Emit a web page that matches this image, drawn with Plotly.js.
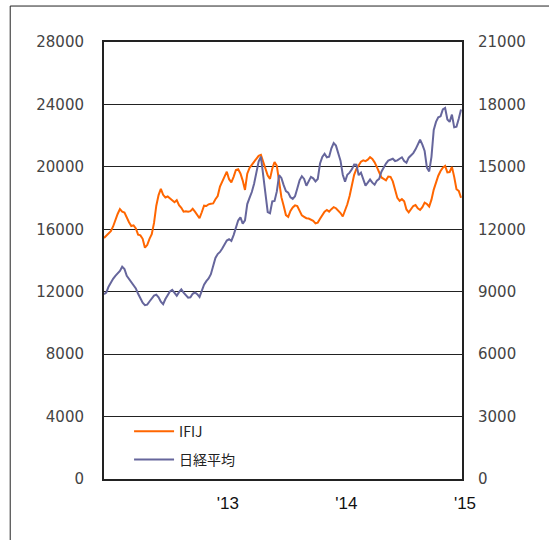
<!DOCTYPE html>
<html>
<head>
<meta charset="utf-8">
<script src="https://cdn.plot.ly/plotly-3.0.1.min.js"></script>
<style>
html,body{margin:0;padding:0;background:#fff;}
#chart{width:549px;height:540px;}
</style>
</head>
<body>
<div id="chart"></div>
<script>
// Weekly observations (Mondays)
const dates = [
"2011-12-26",
"2012-01-02","2012-01-09","2012-01-16","2012-01-23","2012-01-30",
"2012-02-06","2012-02-13","2012-02-20","2012-02-27",
"2012-03-05","2012-03-12","2012-03-19","2012-03-26",
"2012-04-02","2012-04-09","2012-04-16","2012-04-23","2012-04-30",
"2012-05-07","2012-05-14","2012-05-21","2012-05-28",
"2012-06-04","2012-06-11","2012-06-18","2012-06-25",
"2012-07-02","2012-07-09","2012-07-16","2012-07-23","2012-07-30",
"2012-08-06","2012-08-13","2012-08-20","2012-08-27",
"2012-09-03","2012-09-10","2012-09-17","2012-09-24",
"2012-10-01","2012-10-08","2012-10-15","2012-10-22","2012-10-29",
"2012-11-05","2012-11-12","2012-11-19","2012-11-26",
"2012-12-03","2012-12-10","2012-12-17","2012-12-24","2012-12-31",
"2013-01-07","2013-01-14","2013-01-21","2013-01-28",
"2013-02-04","2013-02-11","2013-02-18","2013-02-25",
"2013-03-04","2013-03-11","2013-03-18","2013-03-25",
"2013-04-01","2013-04-08","2013-04-15","2013-04-22","2013-04-29",
"2013-05-06","2013-05-13","2013-05-20","2013-05-27",
"2013-06-03","2013-06-10","2013-06-17","2013-06-24",
"2013-07-01","2013-07-08","2013-07-15","2013-07-22","2013-07-29",
"2013-08-05","2013-08-12","2013-08-19","2013-08-26",
"2013-09-02","2013-09-09","2013-09-16","2013-09-23","2013-09-30",
"2013-10-07","2013-10-14","2013-10-21","2013-10-28",
"2013-11-04","2013-11-11","2013-11-18","2013-11-25",
"2013-12-02","2013-12-09","2013-12-16","2013-12-23","2013-12-30",
"2014-01-06","2014-01-13","2014-01-20","2014-01-27",
"2014-02-03","2014-02-10","2014-02-17","2014-02-24",
"2014-03-03","2014-03-10","2014-03-17","2014-03-24","2014-03-31",
"2014-04-07","2014-04-14","2014-04-21","2014-04-28",
"2014-05-05","2014-05-12","2014-05-19","2014-05-26",
"2014-06-02","2014-06-09","2014-06-16","2014-06-23","2014-06-30",
"2014-07-07","2014-07-14","2014-07-21","2014-07-28",
"2014-08-04","2014-08-11","2014-08-18","2014-08-25",
"2014-09-01","2014-09-08","2014-09-15","2014-09-22","2014-09-29",
"2014-10-06","2014-10-13","2014-10-20","2014-10-27",
"2014-11-03","2014-11-10","2014-11-17","2014-11-24",
"2014-12-01","2014-12-08","2014-12-15","2014-12-22","2014-12-29"
];

// IFIJ (left axis)
const ifij = [
15440,15570,15720,15880,16180,16600,16980,17290,17130,17070,
16740,16450,16210,16250,16050,15660,15610,15390,14820,14990,
15390,15680,16410,17510,18190,18590,18210,18040,18100,17990,
17820,17730,17860,17550,17380,17130,17160,17130,17160,17310,
17130,16930,16710,17090,17510,17490,17600,17640,17660,17930,
18130,18740,19070,19470,19690,19210,19010,19360,19800,19850,
19580,19120,18520,19560,19930,20130,20310,20510,20710,20770,
20350,19980,19450,19230,19890,20310,20070,19070,18060,17510,
16910,16800,17180,17400,17530,17490,17150,16890,16800,16710,
16690,16630,16540,16380,16430,16670,16890,17130,17240,17130,
17290,17420,17350,17200,17040,16820,17180,17600,18130,18850,
19490,19870,20130,20330,20420,20370,20460,20620,20510,20290,
19980,19650,19320,19230,19140,19380,19360,19070,18540,18010,
17820,17930,17790,17270,17090,17290,17490,17550,17350,17240,
17420,17710,17620,17460,17900,18540,19030,19430,19730,19950,
20060,19650,19670,20000,19360,18570,18460,18020
];

// 日経平均 (right axis)
const nikkei = [
8880,8960,9240,9460,9620,9760,9890,10000,10200,10090,
9760,9610,9520,9360,9160,8900,8650,8470,8350,8380,
8530,8680,8810,8860,8730,8520,8400,8650,8830,9010,
9090,8960,8810,8980,9110,8960,8830,8710,8730,8900,
8960,8880,8750,9090,9340,9510,9640,9840,10240,10620,
10810,10910,11080,11280,11460,11520,11440,11720,12100,12420,
12570,12270,12430,13210,13510,13790,14190,14650,15250,15490,
14580,13590,12830,12770,13340,13360,13820,14600,14470,14120,
13840,13760,13540,13460,13590,13960,14350,14550,14420,14090,
14300,14520,14450,14300,14420,15160,15480,15630,15460,15490,
15890,16140,16020,15660,15300,14620,14290,14620,14720,14880,
15110,15100,14600,14720,14390,14100,14240,14390,14240,14140,
14340,14420,14770,15000,15160,15300,15340,15390,15280,15310,
15390,15460,15280,15200,15440,15540,15660,15840,16070,16300,
16070,15760,14960,14780,15480,16770,17160,17380,17430,17760,
17830,17280,17160,17510,16900,16930,17310,17760
];

const xTickVals = ["2013-01-01","2014-01-01","2015-01-01"];
const xTickText = ["'13","'14","'15"];
const leftTicks = [0,4000,8000,12000,16000,20000,24000,28000];
const rightTicks = [0,3000,6000,9000,12000,15000,18000,21000];

const traces = [
  {x: dates, y: ifij, name: "IFIJ", type: "scatter", mode: "lines",
   line: {color: "#ff6600", width: 2}, yaxis: "y", legendgroup: "a"},
  {x: dates, y: nikkei, name: "日経平均", type: "scatter", mode: "lines",
   line: {color: "#66669c", width: 2}, yaxis: "y2", legendgroup: "b"}
];

const layout = {
  width: 549, height: 540,
  margin: {l: 104, r: 87, t: 42, b: 61, pad: 0},
  paper_bgcolor: "#fff", plot_bgcolor: "#fff",
  showlegend: true,
  legend: {x: 0.07, y: 0.145, xanchor: "left", yanchor: "top",
           bgcolor: "rgba(0,0,0,0)", tracegroupgap: 7, itemwidth: 40,
           font: {family: "Noto Sans CJK JP, sans-serif", size: 14, color: "#222"}},
  xaxis: {type: "date", range: ["2011-12-26", "2015-01-01"],
          tickvals: xTickVals, ticktext: xTickText, ticks: "",
          ticklabelshift: 3, ticklabelstandoff: 8,
          showgrid: false, zeroline: false,
          showline: true, linecolor: "#222", linewidth: 2, mirror: true,
          tickfont: {family: "Liberation Sans, sans-serif", size: 17, color: "#111"}},
  yaxis: {range: [0, 28000], tickvals: leftTicks, ticks: "", tickformat: "d",
          ticklabelstandoff: 15,
          showgrid: true, gridcolor: "#222", gridwidth: 1, zeroline: false,
          showline: true, linecolor: "#222", linewidth: 2,
          tickfont: {family: "DejaVu Sans, sans-serif", size: 15, color: "#444"}},
  yaxis2: {range: [0, 21000], tickvals: rightTicks, ticks: "", tickformat: "d",
           overlaying: "y", side: "right", ticklabelstandoff: 11,
           showgrid: false, zeroline: false,
           showline: true, linecolor: "#222", linewidth: 2,
           tickfont: {family: "DejaVu Sans, sans-serif", size: 15, color: "#444"}},
  shapes: [
    {type: "line", xref: "paper", yref: "paper", x0: -0.262, x1: 1.4, y0: 1.0823, y1: 1.0823,
     line: {color: "#222", width: 1}},
    {type: "line", xref: "paper", yref: "paper", x0: -0.262, x1: -0.262, y0: 1.0823, y1: -0.3,
     line: {color: "#222", width: 1}}
  ]
};

Plotly.newPlot("chart", traces, layout, {displayModeBar: false, staticPlot: true});
</script>
</body>
</html>
